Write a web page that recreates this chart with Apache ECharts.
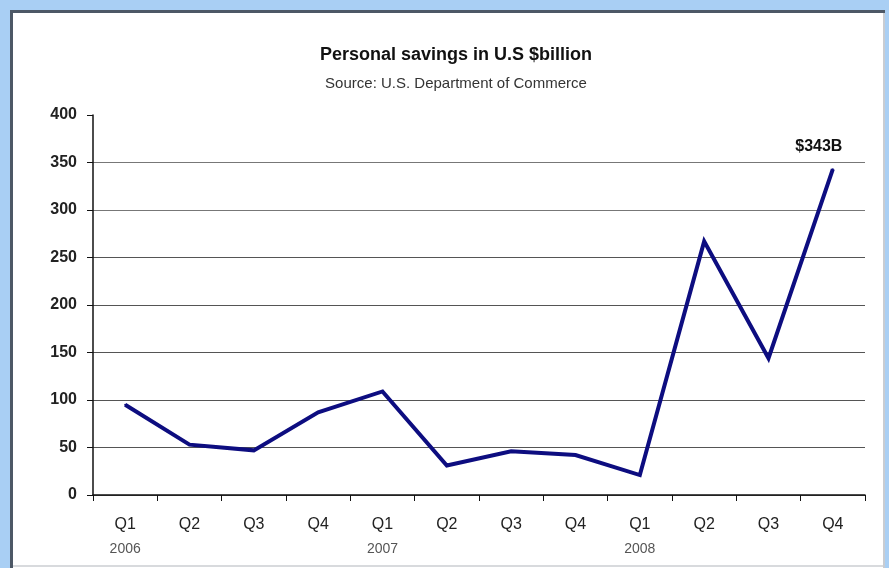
<!DOCTYPE html>
<html>
<head>
<meta charset="utf-8">
<script src="https://cdn.jsdelivr.net/npm/echarts@6/dist/echarts.min.js"></script>
<style>
  html, body { margin: 0; padding: 0; background: #fff; }
  #chart { width: 889px; height: 568px; }
</style>
</head>
<body>
<div id="chart"></div>
<script>
const quarters = ["Q1", "Q2", "Q3", "Q4", "Q1", "Q2", "Q3", "Q4", "Q1", "Q2", "Q3", "Q4"];
const years = ["2006", "", "", "", "2007", "", "", "", "2008", "", "", ""];
const savings = [95, 53, 47, 87, 109, 31, 46, 42, 21, 267, 144, 343];
const peakLabel = "$343B";

const chart = echarts.init(document.getElementById("chart"));

const seriesData = savings.map((v, i) => {
  if (i === savings.length - 1) {
    return {
      value: v,
      label: {
        show: true,
        position: "top",
        distance: 14,
        offset: [-14, 0],
        formatter: peakLabel,
        fontFamily: "Liberation Sans",
        fontWeight: "bold",
        fontSize: 16,
        color: "#111"
      }
    };
  }
  return v;
});

const option = {
  backgroundColor: "#ffffff",
  animation: false,
  graphic: [
    // light blue frame and dark inner border
    { type: "rect", left: 0, top: 0, shape: { width: 889, height: 10 }, style: { fill: "#a9cff4" }, z: 100 },
    { type: "rect", left: 0, top: 0, shape: { width: 10, height: 568 }, style: { fill: "#a9cff4" }, z: 100 },
    { type: "rect", left: 885, top: 0, shape: { width: 4, height: 568 }, style: { fill: "#a9cff4" }, z: 100 },
    { type: "rect", left: 10, top: 10, shape: { width: 875, height: 3 }, style: { fill: "#4d5866" }, z: 100 },
    { type: "rect", left: 10, top: 10, shape: { width: 3, height: 558 }, style: { fill: "#4d5866" }, z: 100 },
    { type: "rect", left: 883, top: 13, shape: { width: 2, height: 555 }, style: { fill: "#c8ccd2" }, z: 100 },
    { type: "rect", left: 13, top: 565, shape: { width: 870, height: 2 }, style: { fill: "#d8dadd" }, z: 100 }
  ],
  title: {
    text: "Personal savings in U.S $billion",
    subtext: "Source: U.S. Department of Commerce",
    left: 451,
    textAlign: "center",
    top: 41,
    itemGap: 12,
    textStyle: {
      fontFamily: "Liberation Sans",
      fontWeight: "bold",
      fontSize: 18,
      color: "#111"
    },
    subtextStyle: {
      fontFamily: "Liberation Sans",
      fontSize: 15,
      color: "#333"
    }
  },
  grid: {
    left: 93,
    right: 24,
    top: 115,
    bottom: 73
  },
  xAxis: {
    type: "category",
    data: quarters,
    boundaryGap: true,
    axisLine: { lineStyle: { color: "#111", width: 1.5 } },
    axisTick: { show: true, interval: 0, length: 6, lineStyle: { color: "#111" } },
    axisLabel: {
      interval: 0,
      margin: 18,
      fontFamily: "Liberation Sans",
      fontSize: 16,
      color: "#222",
      lineHeight: 24,
      formatter: (val, idx) => years[idx] ? val + "\n{y|" + years[idx] + "}" : val,
      rich: {
        y: { fontFamily: "Liberation Sans", fontSize: 14, color: "#555", lineHeight: 24 }
      }
    },
    splitLine: { show: false }
  },
  yAxis: {
    type: "value",
    min: 0,
    max: 400,
    interval: 50,
    axisLine: { show: true, lineStyle: { color: "#111", width: 1.5 } },
    axisTick: { show: true, length: 6, lineStyle: { color: "#111" } },
    axisLabel: {
      margin: 16,
      fontFamily: "Liberation Sans",
      fontWeight: "bold",
      fontSize: 16,
      color: "#222"
    },
    splitLine: {
      show: true,
      lineStyle: {
        color: ["#555", "#555", "#555", "#555", "#555", "#555", "#777", "#777", "rgba(0,0,0,0)"],
        width: 1.2
      }
    }
  },
  series: [
    {
      type: "line",
      data: seriesData,
      showSymbol: true,
      symbol: "circle",
      symbolSize: 2,
      lineStyle: { color: "#0d0d80", width: 4, join: "miter" },
      itemStyle: { color: "#0d0d80", borderWidth: 0 },
      label: { show: false }
    }
  ]
};

chart.setOption(option);
</script>
</body>
</html>
